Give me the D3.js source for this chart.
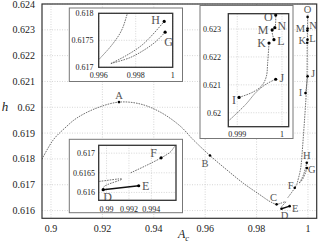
<!DOCTYPE html>
<html>
<head>
<meta charset="utf-8">
<script src="https://cdn.jsdelivr.net/npm/d3@7"></script>
<style>
  body { margin: 0; background: #fff; }
</style>
</head>
<body>
<script>
// continuation curves, [A_c, h]
let branchMain = [
    [0.8965, 0.61799], [0.9009, 0.61874], [0.90545, 0.6192], [0.91, 0.61958],
    [0.91778, 0.61997], [0.92646, 0.6202], [0.93463, 0.62013], [0.94241, 0.61982],
    [0.95019, 0.61928], [0.95537, 0.61874], [0.96187, 0.61813], [0.96837, 0.61758],
    [0.97482, 0.61706], [0.98132, 0.61661], [0.9852, 0.61635], [0.9878, 0.61624],
    [0.9893, 0.61628], [0.99137, 0.61634], [0.98978, 0.61615], [0.9897, 0.61607]
];
let branchDE = [[0.9897, 0.61607], [0.99287, 0.61617]];
let branchFJ = [
    [0.99215, 0.6165], [0.9935, 0.61668], [0.99487, 0.61688], [0.9957, 0.61703],
    [0.996, 0.61714], [0.99675, 0.61743], [0.99723, 0.61768], [0.99755, 0.618],
    [0.9983, 0.619], [0.9988, 0.6197], [0.99919, 0.6203], [0.99943, 0.62075],
    [0.99965, 0.62103], [0.99986, 0.6212]
];
let branchH  = [[0.99666, 0.61707], [0.9975, 0.61722], [0.9983, 0.6174], [0.9989, 0.6176], [0.99954, 0.61785]];
let branchG  = [[0.99666, 0.61707], [0.9977, 0.61718], [0.9985, 0.61733], [0.9991, 0.61748], [0.99959, 0.61765]];
let branchIK = [[0.99904, 0.62055], [0.99935, 0.62074], [0.99955, 0.62097], [0.99965, 0.6213], [0.99968, 0.6218], [0.99971, 0.6225]];
let branchLO = [[0.99982, 0.62262], [0.99978, 0.62297], [0.99984, 0.62305], [0.99986, 0.6235]];

let pointNames = ["A", "B", "C", "D", "E", "F", "G", "H", "I", "J", "K", "L", "M", "N", "O"];
let pointAc    = [0.92646, 0.96187, 0.9878, 0.9897, 0.99287, 0.99487, 0.99959, 0.99954, 0.99904, 0.99986, 0.99971, 0.99982, 0.99978, 0.99984, 0.99986];
let pointH     = [0.6202, 0.61813, 0.61624, 0.61607, 0.61617, 0.61688, 0.61765, 0.61785, 0.62055, 0.6212, 0.6225, 0.62262, 0.62297, 0.62305, 0.6235];

let mainXTicks = [0.9, 0.92, 0.94, 0.96, 0.98, 1];
let mainYTicks = [0.616, 0.617, 0.618, 0.619, 0.62, 0.621, 0.622, 0.623, 0.624];
let gh_XTicks  = [0.996, 0.998, 1];
let gh_YTicks  = [0.617, 0.6175, 0.618];
let io_XTicks  = [0.999, 1];
let io_YTicks  = [0.62, 0.621, 0.622, 0.623];
let df_XTicks  = [0.99, 0.992, 0.994];
let df_YTicks  = [0.616, 0.6165, 0.617];

let points = pointNames.map((n, i) => ({name: n, x: pointAc[i], y: pointH[i]}));

let curves = [
    {d: branchMain, solid: false},
    {d: branchDE,   solid: true},
    {d: branchFJ,   solid: false},
    {d: branchH,    solid: false},
    {d: branchG,    solid: false},
    {d: branchIK,   solid: false},
    {d: branchLO,   solid: false}
];

const SERIF = "'Liberation Serif', 'DejaVu Serif', serif";

let svg = d3.select("body").append("svg")
            .attr("width", 319).attr("height", 243)
            .attr("font-family", SERIF);

let fmt = v => String(+v.toFixed(4));

function panel(p) {
    let g = svg.append("g");
    if (p.box) {
        g.append("rect")
         .attr("x", p.box[0]).attr("y", p.box[1])
         .attr("width", p.box[2] - p.box[0]).attr("height", p.box[3] - p.box[1])
         .attr("fill", "#fff").attr("stroke", "#777").attr("stroke-width", 1);
    }
    let x = d3.scaleLinear().domain(p.xd).range([p.x0, p.x1]);
    let y = d3.scaleLinear().domain(p.yd).range([p.y1, p.y0]);

    // grid
    g.selectAll(".gx").data(p.xt).enter().append("line")
     .attr("x1", d => x(d)).attr("x2", d => x(d))
     .attr("y1", p.y0).attr("y2", p.y1)
     .attr("stroke", "#c4c4c4").attr("stroke-width", 0.7).attr("stroke-dasharray", "1,1.5");
    g.selectAll(".gy").data(p.yt).enter().append("line")
     .attr("x1", p.x0).attr("x2", p.x1)
     .attr("y1", d => y(d)).attr("y2", d => y(d))
     .attr("stroke", "#c4c4c4").attr("stroke-width", 0.7).attr("stroke-dasharray", "1,1.5");

    // tick labels
    g.selectAll(".tx").data(p.xt).enter().append("text")
     .attr("x", d => x(d)).attr("y", p.xLabY)
     .attr("font-family", SERIF)
     .attr("text-anchor", "middle").attr("font-size", p.tf).attr("fill", "#222")
     .text(fmt);
    g.selectAll(".ty").data(p.yt).enter().append("text")
     .attr("x", p.yLabX).attr("y", d => y(d) + p.tf * 0.35)
     .attr("font-family", SERIF)
     .attr("text-anchor", "end").attr("font-size", p.tf).attr("fill", "#222")
     .text(fmt);

    let clipId = "clip-" + p.id;
    svg.append("clipPath").attr("id", clipId).append("rect")
       .attr("x", p.x0).attr("y", p.y0)
       .attr("width", p.x1 - p.x0).attr("height", p.y1 - p.y0);

    let inner = g.append("g").attr("clip-path", "url(#" + clipId + ")");
    let line = d3.line().x(d => x(d[0])).y(d => y(d[1])).curve(d3.curveCatmullRom.alpha(0.5));

    curves.forEach(c => {
        inner.append("path")
             .attr("d", line(c.d))
             .attr("fill", "none")
             .attr("stroke", c.solid ? "#111" : "#333")
             .attr("stroke-width", c.solid ? 1.4 : 0.7)
             .attr("stroke-dasharray", c.solid ? null : "1.6,1");
    });

    let shown = points.filter(d => p.names.indexOf(d.name) >= 0);
    inner.selectAll(".pt").data(shown).enter().append("circle")
         .attr("cx", d => x(d.x)).attr("cy", d => y(d.y))
         .attr("r", p.r).attr("fill", "#000");

    g.selectAll(".lb").data(shown).enter().append("text")
     .attr("x", d => x(d.x) + p.off[d.name][0])
     .attr("y", d => y(d.y) + p.off[d.name][1] + p.lf * 0.35)
     .attr("font-family", SERIF)
     .attr("text-anchor", "middle").attr("font-size", p.lf).attr("fill", "#555")
     .text(d => d.name);

    g.append("rect")
     .attr("x", p.x0).attr("y", p.y0)
     .attr("width", p.x1 - p.x0).attr("height", p.y1 - p.y0)
     .attr("fill", "none").attr("stroke", "#333").attr("stroke-width", p.box ? 1.3 : 1.2);
}

panel({
    id: "main", x0: 42, x1: 316.7, y0: 4, y1: 218.3,
    xd: [0.8965, 1.0034], yd: [0.6157, 0.624],
    xt: mainXTicks, yt: mainYTicks, tf: 10, lf: 10.5, r: 1.3,
    xLabY: 232, yLabX: 35,
    names: pointNames,
    off: {A: [0, -7], B: [-5, 8], C: [-3, -7], D: [3, 7], E: [5.5, 2], F: [-4, -3],
          G: [5, 1.5], H: [0, -7.5], I: [-5, -1], J: [5.5, -3], K: [-5, -2],
          L: [5, -1], M: [-7, -2], N: [5.5, -3], O: [0, -8]}
});

panel({
    id: "gh", box: [69.3, 8, 182.5, 81.5],
    x0: 98.7, x1: 172.7, y0: 13.3, y1: 67.3,
    xd: [0.996, 1.0], yd: [0.617, 0.618],
    xt: gh_XTicks, yt: gh_YTicks, tf: 8, lf: 12, r: 1.6,
    xLabY: 78, yLabX: 93.5,
    names: ["G", "H"],
    off: {H: [-8.5, -1.5], G: [3.5, 10]}
});

panel({
    id: "io", box: [200, 5.5, 293, 138.5],
    x0: 228.3, x1: 288.7, y0: 13.7, y1: 126.7,
    xd: [0.9988, 1.00015], yd: [0.6195, 0.62355],
    xt: io_XTicks, yt: io_YTicks, tf: 8, lf: 12, r: 1.6,
    xLabY: 137, yLabX: 221,
    names: ["I", "J", "K", "L", "M", "N", "O"],
    off: {O: [-7.5, 2], N: [7, -1.5], M: [-9, 0], L: [7, 1], K: [-7.5, 0], I: [-5, 2.5], J: [6, -1]}
});

panel({
    id: "df", box: [69.3, 139.3, 182.5, 212.7],
    x0: 98.7, x1: 176, y0: 145.3, y1: 200.3,
    xd: [0.9893, 0.9962], yd: [0.6158, 0.6172],
    xt: df_XTicks, yt: df_YTicks, tf: 8, lf: 12, r: 1.6,
    xLabY: 211.5, yLabX: 95,
    names: ["D", "E", "F"],
    off: {D: [4.5, 7], E: [7, 0.5], F: [-7.5, -5.5]}
});

// axis titles
svg.append("text").attr("x", 5).attr("y", 111)
   .attr("font-family", SERIF)
   .attr("text-anchor", "middle").attr("font-size", 13).attr("font-style", "italic")
   .attr("fill", "#222").text("h");

let xt = svg.append("text").attr("x", 178).attr("y", 238)
            .attr("font-family", SERIF)
            .attr("font-size", 12).attr("font-style", "italic").attr("fill", "#222");
xt.append("tspan").text("A");
xt.append("tspan").attr("font-size", 8.5).attr("dy", 2.5).text("c");
</script>
</body>
</html>
